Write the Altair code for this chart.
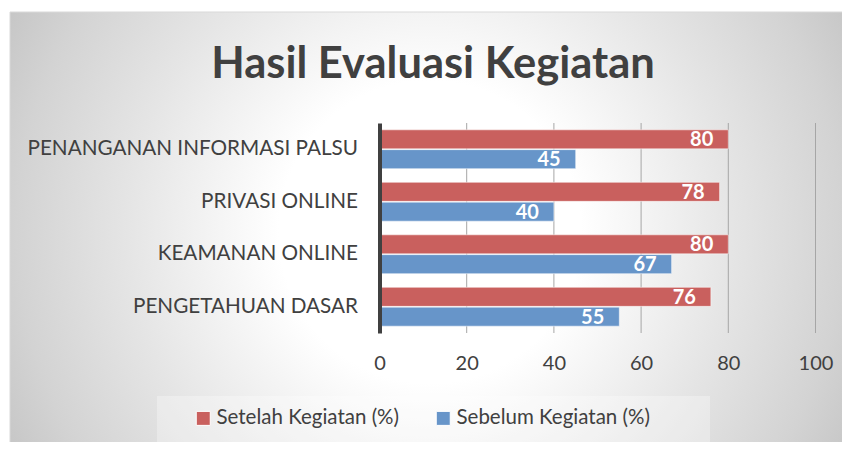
import altair as alt
import pandas as pd

# ---- data ----
categories = ["PENANGANAN INFORMASI PALSU", "PRIVASI ONLINE", "KEAMANAN ONLINE", "PENGETAHUAN DASAR"]
series = ["Setelah Kegiatan (%)", "Sebelum Kegiatan (%)"]
setelah = [80, 78, 80, 76]
sebelum = [45, 40, 67, 55]
x_ticks = [0, 20, 40, 60, 80, 100]
title_text = "Hasil Evaluasi Kegiatan"
colors = ["#C9605E", "#6795C9"]

rows = []
for c, a, b in zip(categories, setelah, sebelum):
    rows.append({"category": c, "series": series[0], "value": a})
    rows.append({"category": c, "series": series[1], "value": b})
df = pd.DataFrame(rows)
grid_df = pd.DataFrame({"t": x_ticks[1:]})
one = pd.DataFrame({"d": [0]})

# ---- layout (pixels) ----
W, H = 436, 210
OX, OY = 379.5, 123          # plot origin on the page
PL, PT = OX - 8, OY - 8
TOTW, TOTH = 834, 434
FONT = "Lato"
TXT = "#404040"

bg_grad = {
    "gradient": "radial",
    "x1": 0.5, "y1": 0.5, "r1": 0,
    "x2": 0.5, "y2": 0.5, "r2": 0.6,
    "stops": [
        {"offset": 0.0, "color": "#FFFFFF"},
        {"offset": 0.3, "color": "#FFFFFF"},
        {"offset": 0.6, "color": "#E5E5E5"},
        {"offset": 0.82, "color": "#D3D3D3"},
        {"offset": 1.0, "color": "#C0C0C0"},
    ],
}

background = alt.Chart(one).mark_rect(fill=bg_grad, stroke="#D9D9D9", strokeWidth=1).encode(
    x=alt.value(10 - OX), x2=alt.value(850 - OX),
    y=alt.value(12 - OY), y2=alt.value(452 - OY),
)

legend_bg = alt.Chart(one).mark_rect(fill="#FFFFFF", fillOpacity=0.3).encode(
    x=alt.value(157 - OX), x2=alt.value(710 - OX),
    y=alt.value(396 - OY), y2=alt.value(442 - OY),
)

xscale = alt.Scale(domain=[0, 100])

grid = alt.Chart(grid_df).mark_rule(color="#A6A6A6", strokeWidth=1).encode(
    x=alt.X("t:Q", scale=xscale, title=None),
    y=alt.value(0), y2=alt.value(H),
)

base = alt.Chart(df).encode(
    y=alt.Y(
        "category:N", sort=categories,
        scale=alt.Scale(paddingInner=0.26, paddingOuter=0.13),
        axis=alt.Axis(title=None, domain=True, domainColor=TXT, domainWidth=4, ticks=False,
                      grid=False, labelFont=FONT, labelFontSize=20.7, labelColor=TXT,
                      labelPadding=22, labelLimit=0, zindex=1),
    ),
    yOffset=alt.YOffset("series:N", sort=series, scale=alt.Scale(paddingInner=0.04)),
    x=alt.X(
        "value:Q", scale=xscale,
        axis=alt.Axis(values=x_ticks, title=None, domain=False, ticks=False, grid=False,
                      labelFont=FONT, labelFontSize=20, labelColor=TXT, labelPadding=20,
                      labelFlush=False, zindex=1),
    ),
)

bars = base.mark_bar(stroke="#FFFFFF", strokeOpacity=0.5, strokeWidth=1).encode(
    color=alt.Color(
        "series:N", sort=series,
        scale=alt.Scale(domain=series, range=colors),
        legend=alt.Legend(orient="none", legendX=193 - OX, legendY=408 - OY,
                          direction="horizontal", title=None, symbolType="square",
                          symbolSize=196, symbolStrokeColor="#FFFFFF", symbolStrokeWidth=1,
                          labelFont=FONT, labelFontSize=20.5, labelColor=TXT, labelLimit=0,
                          labelOffset=3, columnPadding=33, padding=0),
    )
)

labels = base.mark_text(align="right", baseline="middle", dx=-15, dy=1, font=FONT,
                        fontWeight="bold", fontSize=20, color="#FFFFFF").encode(
    text="value:Q"
)

title = alt.Chart(one).mark_text(text=title_text, font=FONT, fontSize=43.5, fontWeight="bold",
                                 color=TXT, align="center", baseline="alphabetic").encode(
    x=alt.value(433 - OX), y=alt.value(78 - OY)
)

chart = alt.layer(background, legend_bg, grid, bars, labels, title).properties(
    width=W, height=H,
    padding={"left": PL, "top": PT, "right": TOTW - PL - W, "bottom": TOTH - PT - H},
    autosize=alt.AutoSizeParams(type="none"),
).configure_view(stroke=None)

chart.save("out.html", embed_options={"renderer": "svg", "actions": False})
